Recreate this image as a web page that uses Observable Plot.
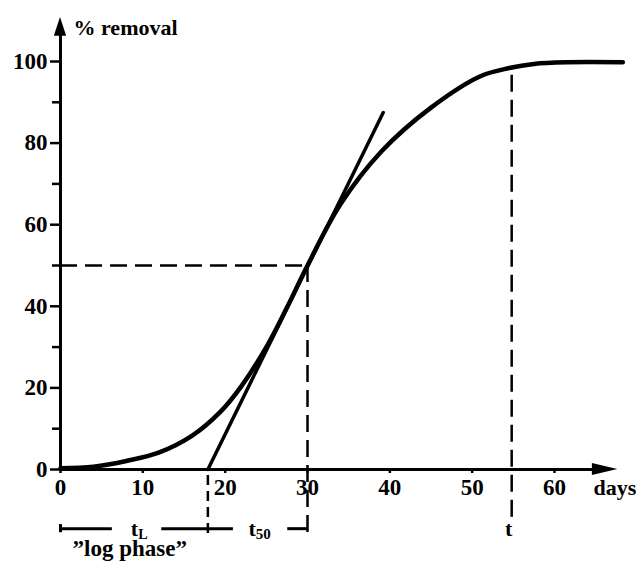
<!DOCTYPE html>
<html><head><meta charset="utf-8">
<script src="https://cdn.jsdelivr.net/npm/d3@7"></script>
<script src="https://cdn.jsdelivr.net/npm/@observablehq/plot@0.6"></script>
<style>body{margin:0;background:#fff} svg{display:block}</style>
</head><body><div id="chart"></div>
<script>
// Data
const days = [0, 4, 8, 12, 16, 19.5, 22, 25, 27.5, 30, 34, 39, 45, 51, 54.5, 57.5, 61.5, 68.3];
const removal = [0.3, 0.7, 2.1, 4.2, 8.3, 14.3, 20.5, 30, 39.7, 50, 65, 78, 88.7, 96.4, 98.4, 99.4, 99.8, 99.8];
const tangentDays = [17.9, 39.2];
const tangentRemoval = [0, 87.5];
const yMajorTicks = [0, 20, 40, 60, 80, 100];
const yMinorTicks = [10, 30, 50, 70, 90];
const xTicks = [0, 10, 20, 30, 40, 50, 60];
const tLag = 17.9, tHalf = 30, tEnd = 54.8;
const halfRemoval = 50, tEndRemoval = 96.6;
const yLabel = "% removal";
const xLabel = "days";
const lagLabel = ["t", "L"];
const halfLabel = ["t", "50"];
const endLabel = "t";
const phaseLabel = "\u201Dlog phase\u201D";

const curve = days.map((d, i) => ({x: d, y: removal[i]}));
const tangent = tangentDays.map((d, i) => ({x: d, y: tangentRemoval[i]}));

const font = "'Liberation Serif', 'Times New Roman', serif";
const dash = "17,8";
const rowY = -14.5;

// render a label as main text + subscript inside one <text>
function subscript(subSize, shift) {
  return (index, scales, values, dims, context, next) => {
    const g = next(index, scales, values, dims, context);
    g.querySelectorAll("text").forEach((t) => {
      const parts = (t.textContent || "").split("|");
      if (parts.length < 2) return;
      t.textContent = "";
      const a = document.createElementNS("http://www.w3.org/2000/svg", "tspan");
      a.textContent = parts[0];
      const b = document.createElementNS("http://www.w3.org/2000/svg", "tspan");
      b.textContent = parts[1];
      b.setAttribute("font-size", subSize);
      b.setAttribute("dy", shift);
      t.appendChild(a);
      t.appendChild(b);
    });
    return g;
  };
}

const chart = Plot.plot({
  width: 636,
  height: 576,
  marginLeft: 60,
  marginRight: 82,
  marginTop: 61,
  marginBottom: 107,
  style: {fontFamily: font, fontWeight: "bold", fontSize: "22px", background: "white", color: "black"},
  x: {domain: [0, 60]},
  y: {domain: [0, 100]},
  marks: [
    // axes lines with arrowheads
    Plot.ruleY([0], {x1: 0, x2: 65, strokeWidth: 3}),
    Plot.areaY([{x: 64.6, y1: -1.47, y2: 1.47}, {x: 67.7, y1: 0, y2: 0}], {x: "x", y1: "y1", y2: "y2", fill: "black"}),
    Plot.ruleX([0], {y1: 0, y2: 107, strokeWidth: 3}),
    Plot.areaX([{y: 106.2, x1: -0.75, x2: 0.75}, {y: 110.8, x1: 0, x2: 0}], {y: "y", x1: "x1", x2: "x2", fill: "black"}),
    Plot.axisY(yMajorTicks, {tickSize: 10, tickPadding: 3, strokeWidth: 2.5, label: null, fontSize: 23}),
    Plot.axisY(yMinorTicks, {tickSize: 8, strokeWidth: 2.5, tickFormat: () => "", label: null}),
    Plot.axisX(xTicks, {tickSize: 4, tickPadding: 5, strokeWidth: 2.5, label: null, fontSize: 23}),
    // dashed guides
    Plot.ruleY([halfRemoval], {x1: 0, x2: tHalf, strokeWidth: 2.5, strokeDasharray: dash}),
    Plot.ruleX([tHalf], {y1: halfRemoval, y2: -16.5, strokeWidth: 2.5, strokeDasharray: dash}),
    Plot.ruleX([tLag], {y1: -1.5, y2: -17, strokeWidth: 2.5, strokeDasharray: "10,6"}),
    Plot.ruleX([tEnd], {y1: tEndRemoval, y2: -12.5, strokeWidth: 2.5, strokeDasharray: dash}),
    // curve and tangent
    Plot.line(curve, {x: "x", y: "y", curve: "catmull-rom", strokeWidth: 4.5, strokeLinecap: "round"}),
    Plot.line(tangent, {x: "x", y: "y", strokeWidth: 3.5}),
    // bottom bracket
    Plot.ruleY([rowY], {x1: 0, x2: 6.3, strokeWidth: 3}),
    Plot.ruleY([rowY], {x1: 12.3, x2: 21, strokeWidth: 3}),
    Plot.ruleY([rowY], {x1: 27.6, x2: tHalf, strokeWidth: 3}),
    Plot.ruleX([0], {y1: rowY - 1, y2: rowY + 1, strokeWidth: 3}),
    // labels
    Plot.text([yLabel], {x: 0, y: 106.6, text: d => d, dx: 13, textAnchor: "start", lineAnchor: "bottom"}),
    Plot.text([xLabel], {x: 60, y: 0, text: d => d, dx: 39, dy: 25, textAnchor: "start", lineAnchor: "bottom"}),
    Plot.text([lagLabel.join("|")], {x: tLag / 2, y: rowY, text: d => d, dx: 5, dy: 7, textAnchor: "middle", lineAnchor: "bottom", render: subscript(14, 3)}),
    Plot.text([halfLabel.join("|")], {x: (tLag + tHalf) / 2, y: rowY, text: d => d, dx: 2, dy: 7, textAnchor: "middle", lineAnchor: "bottom", render: subscript(15, 3)}),
    Plot.text([endLabel], {x: tEnd, y: rowY, text: d => d, dx: -3, dy: 7, textAnchor: "middle", lineAnchor: "bottom"}),
    Plot.text([phaseLabel], {x: 0, y: rowY, text: d => d, dx: 12, dy: 27, textAnchor: "start", lineAnchor: "bottom", fontSize: 23})
  ]
});
document.getElementById("chart").appendChild(chart);
</script>
</body></html>
